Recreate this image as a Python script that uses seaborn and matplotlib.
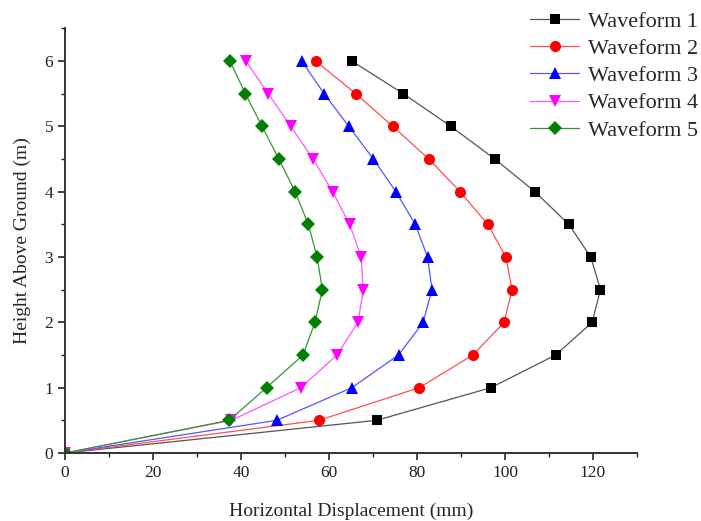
import matplotlib
matplotlib.use("Agg")
import matplotlib.pyplot as plt
import seaborn as sns
import pandas as pd
from matplotlib.ticker import MultipleLocator

heights = [0, 0.5, 1, 1.5, 2, 2.5, 3, 3.5, 4, 4.5, 5, 5.5, 6]
wave1 = [0, 70.8, 96.8, 111.5, 119.8, 121.7, 119.5, 114.5, 106.8, 97.7, 87.7, 76.9, 65.2]
wave2 = [0, 57.7, 80.5, 92.7, 99.8, 101.6, 100.2, 96.1, 89.8, 82.7, 74.5, 66.1, 57.0]
wave3 = [0, 48.1, 65.2, 75.8, 81.4, 83.4, 82.4, 79.6, 75.2, 70.1, 64.5, 58.9, 53.8]
wave4 = [0, 37.8, 53.6, 61.8, 66.6, 67.8, 67.3, 64.7, 60.8, 56.4, 51.3, 46.2, 41.1]
wave5 = [0, 37.3, 45.8, 54.1, 56.8, 58.5, 57.3, 55.3, 52.3, 48.6, 44.8, 41.0, 37.5]
labels = ["Waveform 1", "Waveform 2", "Waveform 3", "Waveform 4", "Waveform 5"]
colors = ["black", "red", "blue", "magenta", "green"]
line_colors = ["#555555", "#ff5050", "#5555ff", "#ff55ff", "#2e9a2e"]
markers = ["s", "o", "^", "v", "D"]
sizes = [7, 8, 8.5, 8.5, 7]

sns.set_theme(style="ticks")
plt.rcParams['font.family'] = ['Liberation Serif', 'DejaVu Serif']

fig = plt.figure(figsize=(7.01, 5.21), dpi=100)
ax = fig.add_axes([0.0927, 0.1305, 0.816, 0.815])

for lab, vals, c, lc, m, s in zip(labels, [wave1, wave2, wave3, wave4, wave5], colors, line_colors, markers, sizes):
    df = pd.DataFrame({"disp": vals, "height": heights})
    sns.lineplot(data=df, x="disp", y="height", sort=False, estimator=None, ax=ax,
                 color=c, marker=m, markersize=s, markeredgewidth=0, linewidth=0.9,
                 label=lab)
    ln = ax.lines[-1]
    ln.set_color(lc)
    ln.set_markerfacecolor(c)
    ln.set_markeredgecolor(c)

ax.set_xlim(0, 130)
ax.set_ylim(0, 6.5)
ax.xaxis.set_major_locator(MultipleLocator(20))
ax.xaxis.set_minor_locator(MultipleLocator(10))
ax.yaxis.set_major_locator(MultipleLocator(1))
ax.yaxis.set_minor_locator(MultipleLocator(0.5))
ax.tick_params(which="major", direction="out", length=5, width=1.2, labelsize=12.5,
               colors="#222222")
ax.tick_params(which="minor", direction="out", length=3, width=1.0, colors="#222222")
for side in ["top", "right"]:
    ax.spines[side].set_visible(False)
for side in ["left", "bottom"]:
    ax.spines[side].set_linewidth(1.4)
    ax.spines[side].set_color("#333333")

ax.set_xlabel("Horizontal Displacement (mm)", fontsize=14, labelpad=16)
ax.set_ylabel("Height Above Ground (m)", fontsize=14, labelpad=10)

ax.get_legend().remove()
handles, labs = ax.get_legend_handles_labels()
fig.legend(handles, labs, loc="upper right", bbox_to_anchor=(1.012, 1.0), frameon=False,
           fontsize=16, handlelength=2.2, labelspacing=0.3, handletextpad=0.4,
           borderaxespad=0.1)

fig.savefig("out.png", dpi=100)
